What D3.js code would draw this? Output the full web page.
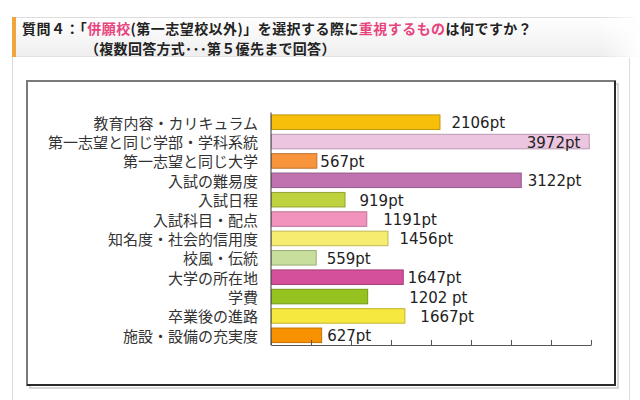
<!DOCTYPE html>
<html>
<head>
<meta charset="utf-8">
<script src="https://cdn.jsdelivr.net/npm/d3@7/dist/d3.min.js"></script>
<style>
  html, body { margin: 0; padding: 0; background: #fff; }
  svg { display: block; }
</style>
</head>
<body>
<svg id="chart" width="640" height="400"></svg>
<script>
const categories = [
  "教育内容・カリキュラム",
  "第一志望と同じ学部・学科系統",
  "第一志望と同じ大学",
  "入試の難易度",
  "入試日程",
  "入試科目・配点",
  "知名度・社会的信用度",
  "校風・伝統",
  "大学の所在地",
  "学費",
  "卒業後の進路",
  "施設・設備の充実度"
];
const values = [2106, 3972, 567, 3122, 919, 1191, 1456, 559, 1647, 1202, 1667, 627];
const valueLabels = ["2106pt", "3972pt", "567pt", "3122pt", "919pt", "1191pt", "1456pt", "559pt", "1647pt", "1202 pt", "1667pt", "627pt"];
const xTicks = [0, 500, 1000, 1500, 2000, 2500, 3000, 3500, 4000];

// styling (not data)
const barColors = ["#f7bf0a", "#ecc6e0", "#f7943c", "#c072b0", "#bdd23c", "#f293bd",
                   "#f5ec70", "#c8de9c", "#d4509a", "#96c21f", "#f6e83e", "#f89100"];
const labelDx = [12, -62, 4, 7, 15, 17, 12, 11, 5, 42, 16, 6];

const svg = d3.select("#chart");
const defs = svg.append("defs");
const hg = defs.append("linearGradient").attr("id", "hdr").attr("x1", 0).attr("y1", 0).attr("x2", 0).attr("y2", 1);
hg.append("stop").attr("offset", "0%").attr("stop-color", "#ffffff");
hg.append("stop").attr("offset", "100%").attr("stop-color", "#eeeeee");
const hg2 = defs.append("linearGradient").attr("id", "hdrfade").attr("x1", 0).attr("y1", 0).attr("x2", 1).attr("y2", 0);
hg2.append("stop").attr("offset", "0%").attr("stop-color", "#ffffff").attr("stop-opacity", 0);
hg2.append("stop").attr("offset", "100%").attr("stop-color", "#ffffff").attr("stop-opacity", 1);

// outer panel
svg.append("line").attr("x1", 12.5).attr("x2", 12.5).attr("y1", 57).attr("y2", 400).attr("stroke", "#dcdcdc");
svg.append("line").attr("x1", 629.5).attr("x2", 629.5).attr("y1", 57).attr("y2", 400).attr("stroke", "#dcdcdc");

// header
svg.append("rect").attr("x", 12).attr("y", 17).attr("width", 628).attr("height", 40).attr("fill", "url(#hdr)");
svg.append("line").attr("x1", 12).attr("x2", 640).attr("y1", 17.5).attr("y2", 17.5).attr("stroke", "#dddddd");
svg.append("line").attr("x1", 12).attr("x2", 640).attr("y1", 56.5).attr("y2", 56.5).attr("stroke", "#e2e2e2");
svg.append("rect").attr("x", 600).attr("y", 16).attr("width", 40).attr("height", 42).attr("fill", "url(#hdrfade)");
svg.append("rect").attr("x", 12).attr("y", 17).attr("width", 4).attr("height", 40).attr("fill", "#f2a53c");

const jp = "'Noto Sans CJK JP', 'Noto Sans CJK SC', sans-serif";
const t1 = svg.append("text").attr("x", 22).attr("y", 27.5).attr("dominant-baseline", "central")
  .attr("font-family", jp).attr("font-size", 14).attr("font-weight", "bold").attr("fill", "#222")
  .attr("letter-spacing", 0.45);
[["質問４：「", "#222"], ["併願校", "#e8447e"], ["(第一志望校以外)」を選択する際に", "#222"],
 ["重視するもの", "#e8447e"], ["は何ですか？", "#222"]].forEach(([s, c]) => t1.append("tspan").attr("fill", c).text(s));
svg.append("text").attr("x", 85).attr("y", 48).attr("dominant-baseline", "central")
  .attr("font-family", jp).attr("font-size", 14).attr("font-weight", "bold").attr("fill", "#222")
  .attr("letter-spacing", 0.3)
  .text("（複数回答方式･･･第５優先まで回答）");

// chart box with shadow
svg.append("rect").attr("x", 30).attr("y", 84).attr("width", 588).attr("height", 304).attr("fill", "none")
  .attr("stroke", "#d6d6d6").attr("stroke-width", 2);
svg.append("rect").attr("x", 27).attr("y", 81).attr("width", 588).attr("height", 304).attr("fill", "#fff")
  .attr("stroke", "#7a7a7a").attr("stroke-width", 2);
svg.append("path").attr("d", "M27,385H615V81").attr("fill", "none").attr("stroke", "#2a2a2a").attr("stroke-width", 2);

// scales
const x = d3.scaleLinear().domain([0, 4000]).range([271, 591]);
const y = d3.scaleBand().domain(categories).range([112.5, 345]).paddingInner(0.25).paddingOuter(0.125);

// bars
svg.append("g").selectAll("rect").data(values).join("rect")
  .attr("x", x(0) + 0.5)
  .attr("y", (d, i) => y(categories[i]))
  .attr("width", d => x(d) - x(0))
  .attr("height", y.bandwidth())
  .attr("fill", (d, i) => barColors[i])
  .attr("stroke", (d, i) => d3.color(barColors[i]).darker(0.7))
  .attr("stroke-width", 1);

// axes
const xAxis = d3.axisBottom(x).tickValues(xTicks).tickSizeInner(-5).tickSizeOuter(0).tickFormat("");
const gx = svg.append("g").attr("transform", "translate(0,345)").call(xAxis);
gx.select(".domain").attr("stroke", "#555").attr("stroke-width", 1.2);
gx.selectAll(".tick line").attr("stroke", "#555");
svg.append("line").attr("x1", 271).attr("x2", 271).attr("y1", 112.5).attr("y2", 345.5)
  .attr("stroke", "#555").attr("stroke-width", 1.2);

// category labels
svg.append("g").selectAll("text").data(categories).join("text")
  .attr("x", 258)
  .attr("y", d => y(d) + y.bandwidth() / 2)
  .attr("dominant-baseline", "central")
  .attr("text-anchor", "end")
  .attr("font-family", jp).attr("font-size", 15).attr("fill", "#333")
  .text(d => d);

// value labels
svg.append("g").selectAll("text").data(values).join("text")
  .attr("x", (d, i) => x(d) + labelDx[i])
  .attr("y", (d, i) => y(categories[i]) + y.bandwidth() / 2 + 1)
  .attr("dominant-baseline", "central")
  .attr("font-family", "'DejaVu Sans', Verdana, sans-serif").attr("font-size", 15).attr("fill", "#222")
  .text((d, i) => valueLabels[i]);
</script>
</body>
</html>
